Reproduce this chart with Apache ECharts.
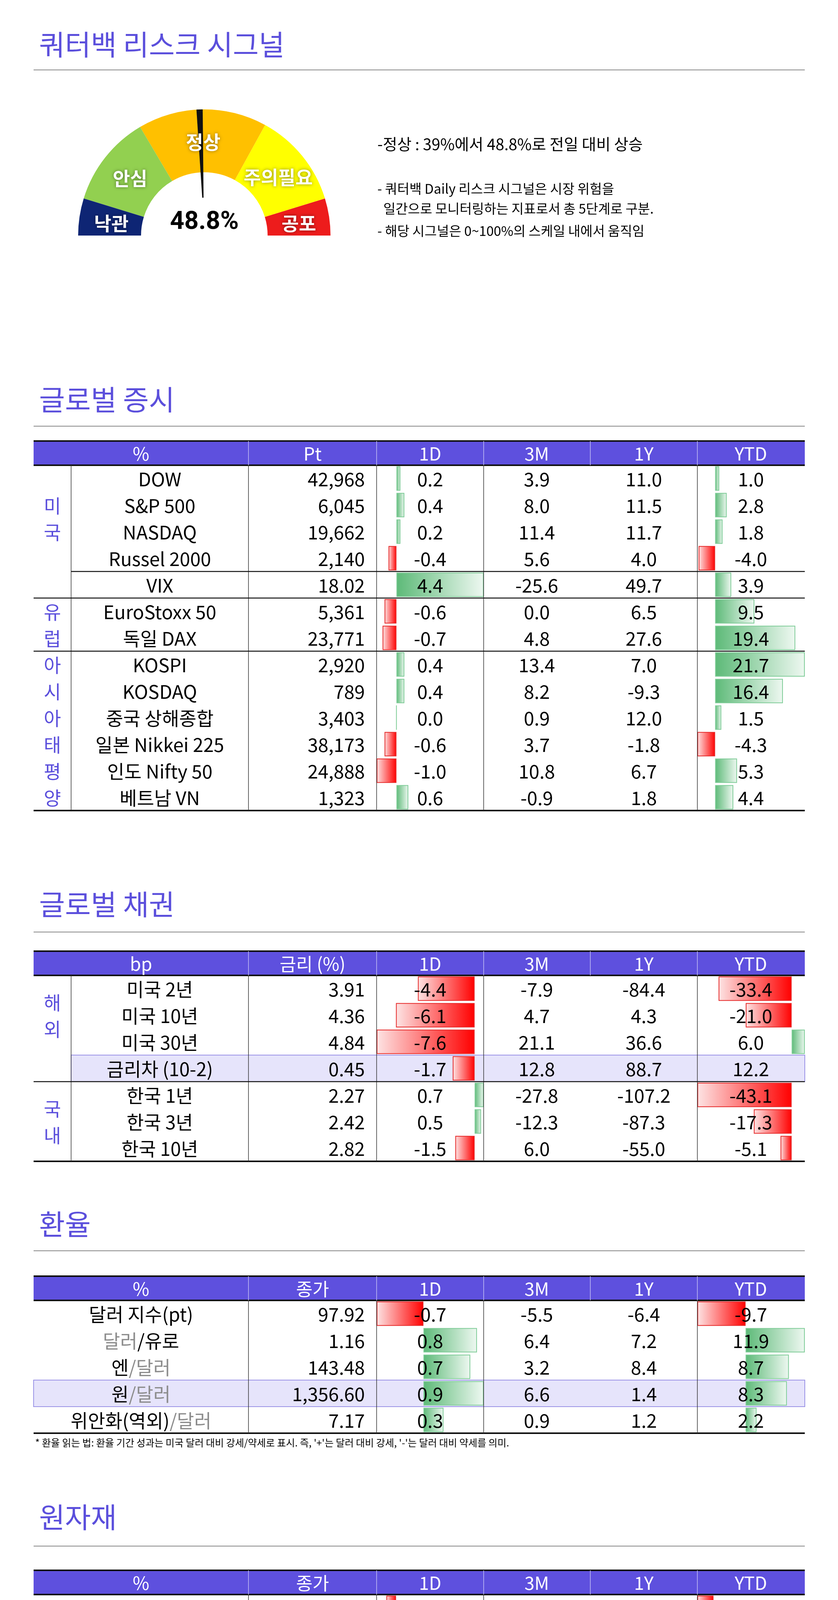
<!DOCTYPE html>
<html><head><meta charset="utf-8">
<script src="https://cdn.jsdelivr.net/npm/echarts@6/dist/echarts.min.js"></script>
<style>html,body{margin:0;padding:0;background:#fff}#c{width:2145px;height:4453px}</style>
</head><body><div id="c"></div>
<script>
// ---------- DATA ----------
const gaugeValue = 48.8;
const gaugeBands = [9.5, 33, 66, 90.5, 100];
const gaugeLabels = ['낙관','안심','정상','주의필요','공포'];
const signalNotes = ['-정상 : 39%에서 48.8%로 전일 대비 상승'];
const signalDesc = ['- 쿼터백 Daily 리스크 시그널은 시장 위험을','  일간으로 모니터링하는 지표로서 총 5단계로 구분.','- 해당 시그널은 0~100%의 스케일 내에서 움직임'];

const stockHeader = ['%','Pt','1D','3M','1Y','YTD'];
const stockNames = ['DOW','S&P 500','NASDAQ','Russel 2000','VIX','EuroStoxx 50','독일 DAX','KOSPI','KOSDAQ','중국 상해종합','일본 Nikkei 225','인도 Nifty 50','베트남 VN'];
const stockLevel = ['42,968','6,045','19,662','2,140','18.02','5,361','23,771','2,920','789','3,403','38,173','24,888','1,323'];
const stock1D = [0.2,0.4,0.2,-0.4,4.4,-0.6,-0.7,0.4,0.4,0.0,-0.6,-1.0,0.6];
const stock3M = [3.9,8.0,11.4,5.6,-25.6,0.0,4.8,13.4,8.2,0.9,3.7,10.8,-0.9];
const stock1Y = [11.0,11.5,11.7,4.0,49.7,6.5,27.6,7.0,-9.3,12.0,-1.8,6.7,1.8];
const stockYTD = [1.0,2.8,1.8,-4.0,3.9,9.5,19.4,21.7,16.4,1.5,-4.3,5.3,4.4];

const bondHeader = ['bp','금리 (%)','1D','3M','1Y','YTD'];
const bondNames = ['미국 2년','미국 10년','미국 30년','금리차 (10-2)','한국 1년','한국 3년','한국 10년'];
const bondLevel = ['3.91','4.36','4.84','0.45','2.27','2.42','2.82'];
const bond1D = [-4.4,-6.1,-7.6,-1.7,0.7,0.5,-1.5];
const bond3M = [-7.9,4.7,21.1,12.8,-27.8,-12.3,6.0];
const bond1Y = [-84.4,4.3,36.6,88.7,-107.2,-87.3,-55.0];
const bondYTD = [-33.4,-21.0,6.0,12.2,-43.1,-17.3,-5.1];

const fxHeader = ['%','종가','1D','3M','1Y','YTD'];
const fxNames = ['달러 지수(pt)','달러/유로','엔/달러','원/달러','위안화(역외)/달러'];
const fxLevel = ['97.92','1.16','143.48','1,356.60','7.17'];
const fx1D = [-0.7,0.8,0.7,0.9,0.3];
const fx3M = [-5.5,6.4,3.2,6.6,0.9];
const fx1Y = [-6.4,7.2,8.4,1.4,1.2];
const fxYTD = [-9.7,11.9,8.7,8.3,2.2];
const fxNote = "* 환율 읽는 법: 환율 기간 성과는 미국 달러 대비 강세/약세로 표시. 즉, '+'는 달러 대비 강세, '-'는 달러 대비 약세를 의미.";

const cmdHeader = ['%','종가','1D','3M','1Y','YTD'];
const cmdNames = ['WTI (bbl)','천연가스 (MMBtu)','금 (t oz)','은 (t oz)','구리 (lb)'];
const cmdLevel = ['68.0','3.5','3,402.4','36.3','483.6'];
const cmd1D = [-0.2,-0.4,1.8,0.1,0.4];
const cmd3M = [0.5,-14.5,15.5,7.6,-0.3];
const cmd1Y = [-13.3,14.7,44.5,19.9,5.9];
const cmdYTD = [-5.1,-3.9,28.8,24.1,20.1];

// ---------- LAYOUT ----------
const FONT = '"Noto Sans CJK KR","Noto Sans",sans-serif';
const PURPLE = '#5b4fdc';
const X = [86,182,636,964,1238,1511,1785,2060];
const HDR = 62, ROW = 68;
const g = [], grids = [], xAxes = [], yAxes = [], series = [];

function txt(t, x, y, size, opt) {
  opt = opt || {};
  g.push({type:'text', x:x, y:y, z:10, style:Object.assign({text:t, fill:opt.fill||'#000',
    font:(opt.weight||'normal')+' '+size+'px '+FONT, textAlign:opt.align||'center',
    textVerticalAlign:'middle'}, opt.extra||{})});
}
function line(x1,y1,x2,y2,c,w){g.push({type:'line',z:5,shape:{x1,y1,x2,y2},style:{stroke:c,lineWidth:w}});}
function rect(x,y,w,h,f,s){g.push({type:'rect',z:0,shape:{x,y,width:w,height:h},style:{fill:f,stroke:s||null,lineWidth:s?2:0}});}

function sectionTitle(t, y, lineY) {
  txt(t, 100, y, 72, {align:'left', fill:PURPLE});
  line(86, lineY, 2060, lineY, '#888', 2);
}

function barCol(vals, x0, x1, top, n) {
  const idx = grids.length;
  const nums = vals.filter(v => v != null);
  const mn = Math.min(0, ...nums), mx = Math.max(0, ...nums);
  grids.push({left:x0, width:x1-x0, top:top, height:n*ROW});
  xAxes.push({gridIndex:idx, type:'value', min:mn, max:mx, show:false});
  yAxes.push({gridIndex:idx, type:'category', inverse:true, show:false, data:vals.map((v,i)=>i)});
  series.push({type:'bar', xAxisIndex:idx, yAxisIndex:idx, barCategoryGap:'8%', z:2, silent:true,
    data: vals.map(v => v == null ? null : {value:v, itemStyle:{
      borderWidth:2,
      borderColor: v>=0 ? '#7fcc98' : '#e52a2a',
      color: v>=0 ? new echarts.graphic.LinearGradient(0,0,1,0,[{offset:0,color:'#5dba78'},{offset:1,color:'#eef8f1'}])
                  : new echarts.graphic.LinearGradient(0,0,1,0,[{offset:0,color:'#fde4e4'},{offset:1,color:'#ff0000'}])
    }})});
}

function table(cfg) {
  const top = cfg.top, n = cfg.names.length, body = top + HDR, bottom = body + n*ROW;
  rect(86, top, 1974, HDR, '#5e50de');
  (cfg.hl||[]).forEach(r => rect(cfg.hlX||182, body + r*ROW, 2060-(cfg.hlX||182), ROW, '#e6e4fb', '#9b93e6'));
  line(86, top, 2060, top, '#111', 4);
  line(86, body, 2060, body, '#111', 4);
  line(86, bottom, 2060, bottom, '#111', 4);
  [636,964,1238,1785].forEach(x => { line(x, top, x, body, '#c9c4f5', 1.5); line(x, body, x, bottom, '#333', 1.5); });
  line(1511, top, 1511, body, '#c9c4f5', 1.5);
  if (cfg.group) line(182, body, 182, bottom, '#333', 1.5);
  (cfg.seps||[]).forEach(s => line(s[1], body + s[0]*ROW, 2060, body + s[0]*ROW, '#111', 2.5));
  const hc = [361,800,1101,1374,1648,1922];
  cfg.header.forEach((h,i) => txt(h, hc[i], top + HDR/2 + 2, 46, {fill:'#fff'}));
  const nameX = cfg.group ? 409 : 361;
  for (let i = 0; i < n; i++) {
    const cy = body + (i+0.5)*ROW + 2;
    if (cfg.rich) {
      const parts = cfg.names[i].split('/');
      let s = '';
      parts.forEach((p,k) => { const seg = (k ? '/' : '') + p; s += '{' + (p === '달러' && cfg.names[i].indexOf('/')>=0 ? 'g' : 'k') + '|' + seg + '}'; });
      txt(s, nameX, cy, 48, {extra:{rich:{g:{fill:'#8c8c8c', font:'48px '+FONT}, k:{fill:'#000', font:'48px '+FONT}}}});
    } else txt(cfg.names[i], nameX, cy, 48);
    txt(cfg.level[i], 934, cy, 48, {align:'right'});
    [cfg.d1, cfg.m3, cfg.y1, cfg.ytd].forEach((arr,k) => txt(arr[i].toFixed(1), hc[k+2], cy, 48));
  }
  (cfg.groups||[]).forEach(gr => {
    const chars = gr.chars, r0 = gr.r0, r1 = gr.r1;
    const cy = body + (r0+r1)/2*ROW, step = gr.step || ROW;
    chars.forEach((c,k) => txt(c, 134, cy + (k-(chars.length-1)/2)*step + 2, 48, {fill:PURPLE}));
  });
  barCol(cfg.d1, 964, 1238, body, n);
  barCol(cfg.ytdBar || cfg.ytd, 1785, 2060, body, n);
}

// ---------- TOP ----------
txt('쿼터백 리스크 시그널', 100, 114, 72, {align:'left', fill:PURPLE});
line(86, 179, 2060, 179, '#888', 2);
const gl = [[285,572],[333,457],[520,364],[712,454],[765,572]];
gaugeLabels.forEach((t,i) => txt(t, gl[i][0], gl[i][1], 48, {fill:'#fff', weight:'bold',
  extra:{textShadowColor:'rgba(0,0,0,0.45)', textShadowBlur:8}}));
txt(signalNotes[0], 966, 369, 40, {align:'left'});
const dy = [483,534,591];
signalDesc.forEach((t,i) => txt(t, 966, dy[i], 34, {align:'left', extra:{}}));

// ---------- TABLES ----------
sectionTitle('글로벌 증시', 1023, 1091);
table({top:1129, header:stockHeader, names:stockNames, level:stockLevel, d1:stock1D, m3:stock3M, y1:stock1Y, ytd:stockYTD,
  group:true, seps:[[4,182],[5,86],[7,86]],
  groups:[{chars:['미','국'], r0:0, r1:4}, {chars:['유','럽'], r0:5, r1:7}, {chars:['아','시','아','태','평','양'], r0:7, r1:13}]});

sectionTitle('글로벌 채권', 2315, 2386);
table({top:2435, header:bondHeader, names:bondNames, level:bondLevel, d1:bond1D, m3:bond3M, y1:bond1Y, ytd:bondYTD,
  ytdBar:bondYTD.map((v,i)=> i===3 ? null : v),
  group:true, hl:[3], hlX:182, seps:[[4,86]],
  groups:[{chars:['해','외'], r0:0, r1:3}, {chars:['국','내'], r0:4, r1:7}]});

sectionTitle('환율', 3134, 3202);
table({top:3267, header:fxHeader, names:fxNames, level:fxLevel, d1:fx1D, m3:fx3M, y1:fx1Y, ytd:fxYTD,
  group:false, rich:true, hl:[3], hlX:86});
txt(fxNote, 90, 3693, 25, {align:'left'});

sectionTitle('원자재', 3884, 3958);
table({top:4020, header:cmdHeader, names:cmdNames, level:cmdLevel, d1:cmd1D, m3:cmd3M, y1:cmd1Y, ytd:cmdYTD,
  group:false, seps:[[2,86]]});

// ---------- GAUGE ----------
const bandColors = ['#0e2574','#92d050','#ffc000','#ffff00','#ed1c1c'];
series.push({type:'gauge', center:[523,603], radius:323, startAngle:180, endAngle:0, min:0, max:100,
  axisLine:{lineStyle:{width:161, color:gaugeBands.map((b,i)=>[b/100, bandColors[i]])}},
  axisTick:{show:false}, splitLine:{show:false}, axisLabel:{show:false}, anchor:{show:false}, title:{show:false},
  pointer:{icon:'path://M-7,0 L7,0 L1.5,100 L-1.5,100 Z', length:'70%', width:16, offsetCenter:[0,'-30%'], itemStyle:{color:'#111'}},
  detail:{formatter:'{value}%', offsetCenter:[0,-33], fontSize:64, fontWeight:'bold', color:'#000', fontFamily:'Roboto, sans-serif'},
  data:[{value:gaugeValue}], z:3});

const chart = echarts.init(document.getElementById('c'), null, {renderer:'canvas'});
chart.setOption({animation:false, backgroundColor:'#fff', grid:grids, xAxis:xAxes, yAxis:yAxes, series:series, graphic:{elements:g}});
</script></body></html>
